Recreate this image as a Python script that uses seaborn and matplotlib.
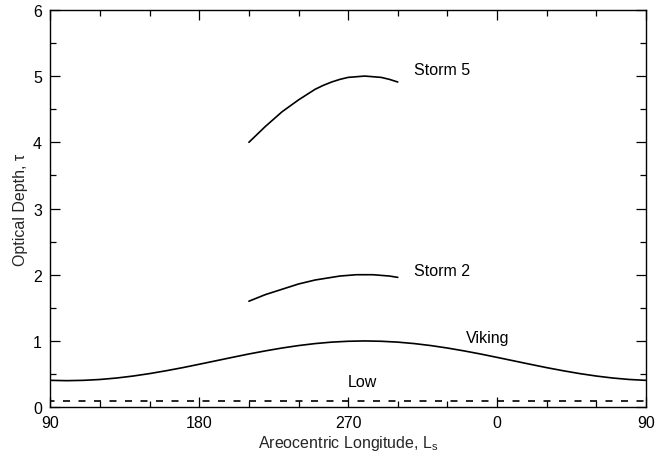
import matplotlib
matplotlib.use("Agg")
import matplotlib.pyplot as plt
from matplotlib.ticker import MultipleLocator
import seaborn as sns
import pandas as pd

# ---- data ----
viking_ls = [90, 100, 110, 120, 130, 140, 150, 160, 170, 180, 190, 200, 210, 220,
             230, 240, 250, 260, 270, 280, 290, 300, 310, 320, 330, 340, 350, 360,
             370, 380, 390, 400, 410, 420, 430, 440, 450]
viking_tau = [0.405, 0.40, 0.405, 0.418, 0.44, 0.47, 0.507, 0.55, 0.597, 0.648, 0.70,
              0.752, 0.803, 0.85, 0.893, 0.93, 0.96, 0.982, 0.995, 1.0, 0.995, 0.982,
              0.96, 0.93, 0.893, 0.85, 0.803, 0.752, 0.70, 0.648, 0.597, 0.55, 0.507,
              0.47, 0.44, 0.418, 0.405]
storm_ls = [210, 215, 220, 225, 230, 235, 240, 245, 250, 255, 260, 265, 270, 275,
            280, 285, 290, 295, 300]
storm5_tau = [4.00, 4.12, 4.24, 4.35, 4.46, 4.55, 4.64, 4.72, 4.80, 4.86, 4.91, 4.95,
              4.98, 4.99, 5.00, 4.99, 4.98, 4.95, 4.91]
storm2_tau = [1.60, 1.65, 1.70, 1.74, 1.78, 1.82, 1.86, 1.89, 1.92, 1.94, 1.96, 1.98,
              1.99, 2.00, 2.00, 2.00, 1.99, 1.98, 1.96]
low_ls = [90, 450]
low_tau = [0.1, 0.1]

xtick_pos = [90, 180, 270, 360, 450]
xtick_labels = ["90", "180", "270", "0", "90"]

labels = ["Storm 5", "Storm 2", "Viking", "Low"]
label_x = [310, 310, 341, 270]
label_y = [5.1, 2.07, 1.05, 0.38]

# ---- style ----
sns.set_style("ticks")
plt.rcParams["font.family"] = ["Liberation Sans", "DejaVu Sans"]
plt.rcParams["mathtext.fontset"] = "custom"
plt.rcParams["mathtext.rm"] = "Liberation Sans"
plt.rcParams["mathtext.it"] = "Liberation Sans"

fs = 11.5
fig = plt.figure(figsize=(6.55, 4.52), dpi=100)
ax = fig.add_axes([0.077, 0.097, 0.909, 0.879])

df_v = pd.DataFrame({"Ls": viking_ls, "tau": viking_tau})
df_s5 = pd.DataFrame({"Ls": storm_ls, "tau": storm5_tau})
df_s2 = pd.DataFrame({"Ls": storm_ls, "tau": storm2_tau})
df_l = pd.DataFrame({"Ls": low_ls, "tau": low_tau})

lw = 1.2
sns.lineplot(data=df_v, x="Ls", y="tau", ax=ax, color="black", lw=lw)
sns.lineplot(data=df_s5, x="Ls", y="tau", ax=ax, color="black", lw=lw)
sns.lineplot(data=df_s2, x="Ls", y="tau", ax=ax, color="black", lw=lw)
sns.lineplot(data=df_l, x="Ls", y="tau", ax=ax, color="black", lw=lw,
             linestyle=(1.5, (4.2, 5.1)))

for t, x, y in zip(labels, label_x, label_y):
    ax.text(x, y, t, fontsize=fs, ha="left", va="center", color="black")

ax.set_xlim(90, 450)
ax.set_ylim(0, 6)
ax.set_xticks(xtick_pos)
ax.set_xticklabels(xtick_labels)
ax.xaxis.set_minor_locator(MultipleLocator(30))
ax.yaxis.set_major_locator(MultipleLocator(1))
ax.yaxis.set_minor_locator(MultipleLocator(0.5))
ax.tick_params(which="both", direction="in", top=True, right=True,
               labelsize=fs, width=0.9, colors="black")
ax.tick_params(which="major", length=7, pad=6)
ax.tick_params(which="minor", length=4)
for s in ax.spines.values():
    s.set_visible(True)
    s.set_linewidth(1.0)
    s.set_color("black")

ax.set_xlabel("Areocentric Longitude, L$_\\mathrm{s}$", fontsize=fs, labelpad=2)
ax.set_ylabel("Optical Depth, τ", fontsize=fs, labelpad=4)

fig.savefig("out.png", dpi=100)
